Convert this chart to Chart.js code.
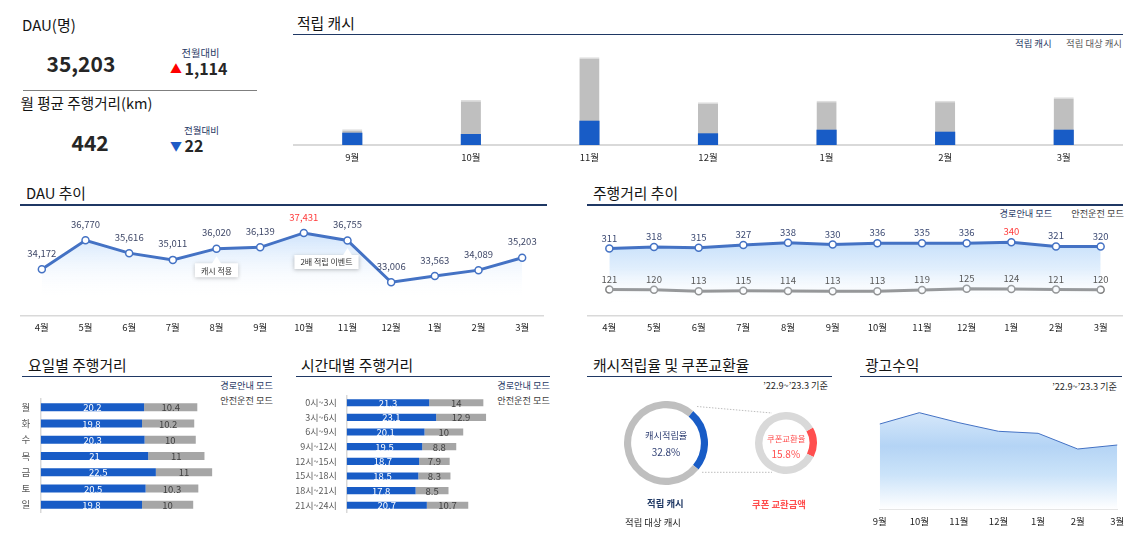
<!DOCTYPE html>
<html><head><meta charset="utf-8">
<script src="https://cdn.jsdelivr.net/npm/chart.js@4"></script>
<style>
html,body{margin:0;padding:0;background:#fff;}
body{width:1137px;height:536px;position:relative;overflow:hidden;font-family:"Noto Sans CJK KR","Noto Sans",sans-serif;}
.t{position:absolute;white-space:nowrap;line-height:1;}
canvas{position:absolute;}
.ln{position:absolute;}
svg{position:absolute;left:0;top:0;}
</style></head><body>
<script>
// ---------- DATA ----------
const cashMonths = ['9월','10월','11월','12월','1월','2월','3월'];
const cashEarned = [12.3, 11, 24.3, 11.7, 15.3, 13.3, 15.3];
const cashTarget = [15.7, 45, 87.7, 42.7, 44.3, 44.3, 47.7];

const trendMonths = ['4월','5월','6월','7월','8월','9월','10월','11월','12월','1월','2월','3월'];
const dauValues = [34172, 36770, 35616, 35011, 36020, 36139, 37431, 36755, 33006, 33563, 34089, 35203];
const dauNoteIndex = [4, 7];
const dauNoteText = ['캐시 적용', '2배 적립 이벤트'];

const distNav = [311, 318, 315, 327, 338, 330, 336, 335, 336, 340, 321, 320];
const distSafe = [121, 120, 113, 115, 114, 113, 113, 119, 125, 124, 121, 120];

const weekdays = ['월','화','수','목','금','토','일'];
const weekdayNav = [20.2, 19.8, 20.3, 21, 22.5, 20.5, 19.8];
const weekdaySafe = [10.4, 10.2, 10, 11, 11, 10.3, 10];

const timeSlots = ['0시~3시','3시~6시','6시~9시','9시~12시','12시~15시','15시~18시','18시~21시','21시~24시'];
const timeNav = [21.3, 23.1, 20.1, 19.5, 18.7, 18.5, 17.8, 20.7];
const timeSafe = [14, 12.9, 10, 8.8, 7.9, 8.3, 8.5, 10.7];

const cashRate = 32.8;      // 적립 캐시 / 적립 대상 캐시 (%)
const cashBase = 100;       // 적립 대상 캐시 (기준)
const couponRate = 15.8;    // 쿠폰 교환율 (%)

const adMonths = ['9월','10월','11월','12월','1월','2월','3월'];
const adRevenue = [85.3, 96.6, 86.6, 78, 76, 60.3, 64.3];

const kpiDau = '35,203', kpiDauDiff = '1,114';
const kpiDist = '442', kpiDistDiff = '22';

// ---------- HELPERS ----------
const FONT = '"Noto Sans CJK KR","Noto Sans",sans-serif';
const NAVY = '#1f3864', BLUE = '#185cc6', LINEBLUE = '#4472c4', RED = '#ff3b3b';
Chart.defaults.font.family = FONT;
Chart.defaults.animation = false;
Chart.defaults.responsive = false;
Chart.defaults.maintainAspectRatio = false;
Chart.defaults.plugins.legend.display = false;
Chart.defaults.plugins.tooltip.enabled = false;

function txt(s, x, y, size, color, opt) {
  opt = opt || {};
  const d = document.createElement('div');
  d.className = 't'; d.textContent = s;
  d.style.fontSize = size + 'px'; d.style.color = color;
  if (opt.weight) d.style.fontWeight = opt.weight;
  d.style.top = (y - size * 0.57) + 'px';
  const a = opt.align || 'left';
  if (a === 'left') d.style.left = x + 'px';
  else if (a === 'right') d.style.right = (1137 - x) + 'px';
  else { d.style.left = x + 'px'; d.style.transform = 'translateX(-50%)'; }
  document.body.appendChild(d);
  return d;
}
function hline(x1, x2, y, color, w) {
  const d = document.createElement('div');
  d.className = 'ln';
  d.style.left = x1 + 'px'; d.style.width = (x2 - x1) + 'px';
  d.style.top = (y - w / 2) + 'px'; d.style.height = w + 'px';
  d.style.background = color;
  document.body.appendChild(d);
}
function mk(x, y, w, h) {
  const c = document.createElement('canvas');
  c.width = w; c.height = h;
  c.style.left = x + 'px'; c.style.top = y + 'px';
  c.style.width = w + 'px'; c.style.height = h + 'px';
  document.body.appendChild(c);
  return c;
}
function vGrad(stops) {
  return (ctx) => {
    const ch = ctx.chart; const a = ch.chartArea;
    if (!a) return 'rgba(0,0,0,0)';
    const g = ch.ctx.createLinearGradient(0, a.top, 0, a.bottom);
    stops.forEach(s => g.addColorStop(s[0], s[1]));
    return g;
  };
}
const fmt = v => v.toLocaleString('en-US');

function lineLabels(sets, font) {
  return {
    id: 'lineLabels',
    afterDatasetsDraw(chart) {
      const c = chart.ctx;
      c.save();
      c.font = font; c.textAlign = 'center'; c.textBaseline = 'middle';
      sets.forEach((s, di) => {
        const ds = chart.data.datasets[di];
        const meta = chart.getDatasetMeta(di);
        const mx = Math.max.apply(null, ds.data);
        meta.data.forEach((pt, i) => {
          const v = ds.data[i];
          c.fillStyle = (s.hiMax && v === mx) ? RED : s.color;
          c.fillText(s.format(v), pt.x, pt.y - s.offset);
        });
      });
      c.restore();
    }
  };
}
function barLabels(colors, font) {
  return {
    id: 'barLabels',
    afterDatasetsDraw(chart) {
      const c = chart.ctx;
      c.save();
      c.font = font; c.textAlign = 'center'; c.textBaseline = 'middle';
      chart.data.datasets.forEach((ds, di) => {
        const meta = chart.getDatasetMeta(di);
        c.fillStyle = colors[di];
        meta.data.forEach((b, i) => {
          c.fillText(String(ds.data[i]), (b.x + b.base) / 2, b.y + 0.5);
        });
      });
      c.restore();
    }
  };
}
const callouts = {
  id: 'callouts',
  afterDatasetsDraw(chart) {
    const c = chart.ctx;
    const meta = chart.getDatasetMeta(0);
    const shifts = [0, -21];
    c.save();
    c.font = '8px ' + FONT;
    dauNoteIndex.forEach((idx, k) => {
      const pt = meta.data[idx];
      const tw = c.measureText(dauNoteText[k]).width;
      const bw = tw + 12, bh = 14;
      const cx = pt.x + shifts[k];
      const top = pt.y + 14.5;
      c.save();
      c.shadowColor = 'rgba(0,0,0,0.25)'; c.shadowBlur = 4; c.shadowOffsetY = 1;
      c.fillStyle = '#fff';
      c.beginPath();
      c.rect(cx - bw / 2, top, bw, bh);
      c.fill();
      c.restore();
      c.fillStyle = '#fff';
      c.beginPath();
      c.moveTo(pt.x - 5, top + 1);
      c.lineTo(pt.x, top - 7);
      c.lineTo(pt.x + 5, top + 1);
      c.closePath();
      c.fill();
      c.fillStyle = '#333';
      c.textAlign = 'center'; c.textBaseline = 'middle';
      c.fillText(dauNoteText[k], cx, top + bh / 2 + 0.5);
    });
    c.restore();
  }
};
const tickFont = { size: 9.5 };
const tickColor = '#262626';

// ---------- TITLES ----------
const titles = [
  ['적립 캐시', 297, 24, 293, 1123, 34.5],
  ['DAU 추이', 26, 194, 20, 547, 205],
  ['주행거리 추이', 593, 194, 587, 1123, 205],
  ['요일별 주행거리', 28, 366, 22, 272, 376.5],
  ['시간대별 주행거리', 301, 366, 296, 550, 376.5],
  ['캐시적립율 및 쿠폰교환율', 593, 366, 587, 832, 376.5],
  ['광고수익', 865, 366, 860, 1122, 376.5]
];
titles.forEach(t => { txt(t[0], t[1], t[2], 14.8, '#141414'); hline(t[3], t[4], t[5], NAVY, 1.5); });

// ---------- KPI ----------
txt('DAU(명)', 22, 26, 15, '#141414');
txt(kpiDau, 46.5, 64.5, 21, '#262626', { weight: 700 });
txt('전월대비', 181.5, 53.5, 10.3, NAVY);
txt('▲', 170, 69.5, 12, '#ff0000');
txt(kpiDauDiff, 184.5, 69, 16, '#262626', { weight: 700 });
hline(22.5, 256.5, 90.7, '#7f7f7f', 1);
txt('월 평균 주행거리(km)', 20.5, 104, 14.6, '#141414');
txt(kpiDist, 71.5, 143.5, 21, '#262626', { weight: 700 });
txt('전월대비', 184, 131, 9.5, NAVY);
txt('▼', 170, 147, 12, '#1f5bc6');
txt(kpiDistDiff, 184.5, 146.5, 16, '#262626', { weight: 700 });

// ---------- LEGENDS / NOTES ----------
txt('적립 캐시', 1015, 44.5, 9.4, NAVY);
txt('적립 대상 캐시', 1122, 44.5, 9.4, '#595959', { align: 'right' });
txt('경로안내 모드', 999.5, 214.5, 9.2, NAVY);
txt('안전운전 모드', 1124, 214.5, 9.2, '#404040', { align: 'right' });
txt('경로안내 모드', 273, 386.7, 9.2, NAVY, { align: 'right' });
txt('안전운전 모드', 273, 401.7, 9.2, '#404040', { align: 'right' });
txt('경로안내 모드', 550, 386.5, 9.2, NAVY, { align: 'right' });
txt('안전운전 모드', 550, 401.7, 9.2, '#404040', { align: 'right' });
txt('\u201922.9~\u201923.3 기준', 828, 386, 9.2, '#262626', { align: 'right' });
txt('\u201922.9~\u201923.3 기준', 1117, 387, 9.2, '#262626', { align: 'right' });

// ---------- CHART: 적립 캐시 ----------
new Chart(mk(293, 40, 830, 130), {
  type: 'bar',
  data: { labels: cashMonths, datasets: [
    { label: '적립 캐시', data: cashEarned, backgroundColor: BLUE, grouped: false, barPercentage: 0.17, categoryPercentage: 1 },
    { label: '적립 대상 캐시', data: cashTarget, backgroundColor: '#bfbfbf', borderColor: '#dedede', borderWidth: { top: 1.5 }, grouped: false, barPercentage: 0.17, categoryPercentage: 1 }
  ]},
  options: {
    layout: { autoPadding: false, padding: { top: 10, left: 0, right: 0, bottom: 0 } },
    scales: {
      x: { grid: { display: false, drawTicks: false }, border: { color: '#d9d9d9', width: 2 },
           ticks: { font: tickFont, color: tickColor, padding: 7 }, afterFit(s) { s.height = 25; } },
      y: { display: false, min: 0, max: 95 }
    }
  }
});

// ---------- CHART: DAU 추이 ----------
new Chart(mk(20, 195, 524, 145), {
  type: 'line',
  data: { labels: trendMonths, datasets: [{
    data: dauValues, borderColor: LINEBLUE, borderWidth: 3, tension: 0,
    pointRadius: 3.5, pointBackgroundColor: '#fff', pointBorderColor: LINEBLUE, pointBorderWidth: 1.5,
    fill: 'start',
    backgroundColor: vGrad([[0, 'rgba(165,204,247,0.85)'], [0.3, 'rgba(185,215,250,0.6)'], [0.86, 'rgba(255,255,255,0)']])
  }]},
  options: {
    layout: { autoPadding: false, padding: { top: 9.3, left: 0, right: 0, bottom: 0 } },
    scales: {
      x: { offset: true, grid: { display: false, drawTicks: false }, border: { color: '#d9d9d9', width: 1.5 },
           ticks: { font: tickFont, color: tickColor, padding: 6.3 }, afterFit(s) { s.height = 24.3; } },
      y: { display: false, min: 30000, max: 40000 }
    }
  },
  plugins: [lineLabels([{ color: '#3f4868', offset: 16, hiMax: true, format: fmt }], '9.5px ' + FONT), callouts]
});

// ---------- CHART: 주행거리 추이 ----------
new Chart(mk(587, 195, 536, 145), {
  type: 'line',
  data: { labels: trendMonths, datasets: [
    { data: distNav, borderColor: LINEBLUE, borderWidth: 3, tension: 0,
      pointRadius: 3.5, pointBackgroundColor: '#fff', pointBorderColor: LINEBLUE, pointBorderWidth: 1.5,
      fill: 'start',
      backgroundColor: vGrad([[0.25, 'rgba(175,210,248,0.8)'], [0.55, 'rgba(198,224,250,0.55)'], [0.9, 'rgba(255,255,255,0)']]) },
    { data: distSafe, borderColor: '#7f7f7f', borderWidth: 3, tension: 0,
      pointRadius: 3.5, pointBackgroundColor: '#fff', pointBorderColor: '#7f7f7f', pointBorderWidth: 1.5, fill: false }
  ]},
  options: {
    layout: { autoPadding: false, padding: { top: 14.9, left: 0, right: 0, bottom: 0 } },
    scales: {
      x: { offset: true, grid: { display: false, drawTicks: false }, border: { color: '#d9d9d9', width: 1.5 },
           ticks: { font: tickFont, color: tickColor, padding: 6.3 }, afterFit(s) { s.height = 24.3; } },
      y: { display: false, min: 0, max: 490 }
    }
  },
  plugins: [lineLabels([
    { color: '#3c4a73', offset: 10.5, hiMax: true, format: v => String(v) },
    { color: '#595959', offset: 10.5, hiMax: false, format: v => String(v) }
  ], '9.5px ' + FONT)]
});

// ---------- CHART: 요일별 주행거리 ----------
new Chart(mk(10, 383, 261, 146), {
  type: 'bar',
  data: { labels: weekdays, datasets: [
    { label: '경로안내 모드', data: weekdayNav, backgroundColor: BLUE, barPercentage: 0.5, categoryPercentage: 1 },
    { label: '안전운전 모드', data: weekdaySafe, backgroundColor: '#a6a6a6', barPercentage: 0.5, categoryPercentage: 1 }
  ]},
  options: {
    indexAxis: 'y',
    layout: { autoPadding: false, padding: { top: 5.3, bottom: 0.7, left: 0, right: 0 } },
    scales: {
      x: { display: false, stacked: true, min: 0, max: 45 },
      y: { stacked: true, grid: { display: false, drawTicks: false }, border: { color: '#d9d9d9', width: 1.5 },
           ticks: { font: { size: 9.5 }, color: '#595959', padding: 10.5 }, afterFit(s) { s.width = 30.7; } }
    }
  },
  plugins: [barLabels(['#ffffff', '#404040'], '9.5px ' + FONT)]
});

// ---------- CHART: 시간대별 주행거리 ----------
new Chart(mk(290, 380, 258, 148), {
  type: 'bar',
  data: { labels: timeSlots, datasets: [
    { label: '경로안내 모드', data: timeNav, backgroundColor: BLUE, barPercentage: 0.49, categoryPercentage: 1 },
    { label: '안전운전 모드', data: timeSafe, backgroundColor: '#a6a6a6', barPercentage: 0.49, categoryPercentage: 1 }
  ]},
  options: {
    indexAxis: 'y',
    layout: { autoPadding: false, padding: { top: 5.5, bottom: 0.8, left: 0, right: 0 } },
    scales: {
      x: { display: false, stacked: true, min: 0, max: 52 },
      y: { stacked: true, grid: { display: false, drawTicks: false }, border: { color: '#d9d9d9', width: 1.5 },
           ticks: { font: { size: 9 }, color: '#595959', padding: 10 }, afterFit(s) { s.width = 56.7; } }
    }
  },
  plugins: [barLabels(['#ffffff', '#404040'], '9.5px ' + FONT)]
});

// ---------- CHART: 캐시적립율 donut ----------
new Chart(mk(624, 401, 84, 84), {
  type: 'doughnut',
  data: { labels: ['적립 캐시', '적립 대상 캐시'], datasets: [{
    data: [cashRate, cashBase], backgroundColor: [BLUE, '#bfbfbf'], borderWidth: 0 }] },
  options: { cutout: '83%', rotation: 40.3, layout: { autoPadding: false, padding: 0 } }
});
// ---------- CHART: 쿠폰교환율 donut ----------
new Chart(mk(755, 411.5, 62, 62), {
  type: 'doughnut',
  data: { labels: ['쿠폰 교환금액', '적립 캐시'], datasets: [{
    data: [couponRate, 100 - couponRate], backgroundColor: ['#ff4f4f', '#d9d9d9'], borderWidth: 0 }] },
  options: { cutout: '76%', rotation: 60.2, layout: { autoPadding: false, padding: 0 } }
});
txt('캐시적립율', 666.2, 436.7, 9.2, '#2f3f73', { align: 'center' });
txt(cashRate + '%', 666, 452.3, 10, '#2f3f73', { align: 'center' });
txt('쿠폰교환율', 786.2, 438.3, 8.4, '#ff4f4f', { align: 'center' });
txt(couponRate + '%', 785.8, 454.3, 10, '#ff4f4f', { align: 'center' });
txt('적립 캐시', 647, 504, 9.4, NAVY, { weight: 700 });
txt('적립 대상 캐시', 625, 523, 9.4, '#262626');
txt('쿠폰 교환금액', 752, 505, 9.4, '#ff4f4f', { weight: 700 });
const svgNS = 'http://www.w3.org/2000/svg';
const svg = document.createElementNS(svgNS, 'svg');
svg.setAttribute('width', '1137'); svg.setAttribute('height', '536');
[[697, 406.5, 772, 413], [702, 472.3, 772, 472.3]].forEach(l => {
  const e = document.createElementNS(svgNS, 'line');
  e.setAttribute('x1', l[0]); e.setAttribute('y1', l[1]); e.setAttribute('x2', l[2]); e.setAttribute('y2', l[3]);
  e.setAttribute('stroke', '#bdbdbd'); e.setAttribute('stroke-width', '1'); e.setAttribute('stroke-dasharray', '1.5 1.5');
  svg.appendChild(e);
});
document.body.appendChild(svg);

// ---------- CHART: 광고수익 ----------
new Chart(mk(866, 385, 265, 150), {
  type: 'line',
  data: { labels: adMonths, datasets: [{
    data: adRevenue, borderColor: LINEBLUE, borderWidth: 1, tension: 0, pointRadius: 0, fill: 'origin',
    backgroundColor: vGrad([[0.1, 'rgba(220,235,251,1)'], [0.45, 'rgba(180,212,245,1)'], [0.7, 'rgba(203,227,249,1)'], [1, 'rgba(255,255,255,1)']])
  }]},
  options: {
    layout: { autoPadding: false, padding: { top: 9.3, left: 0, right: 0, bottom: 0 } },
    scales: {
      x: { offset: false, grid: { display: false, drawTicks: false }, border: { color: '#e6e6e6', width: 1 },
           ticks: { font: tickFont, color: tickColor, padding: 6.7 }, afterFit(s) { s.height = 25.7; } },
      y: { display: false, min: 0, max: 115 }
    }
  }
});
</script>
</body></html>
